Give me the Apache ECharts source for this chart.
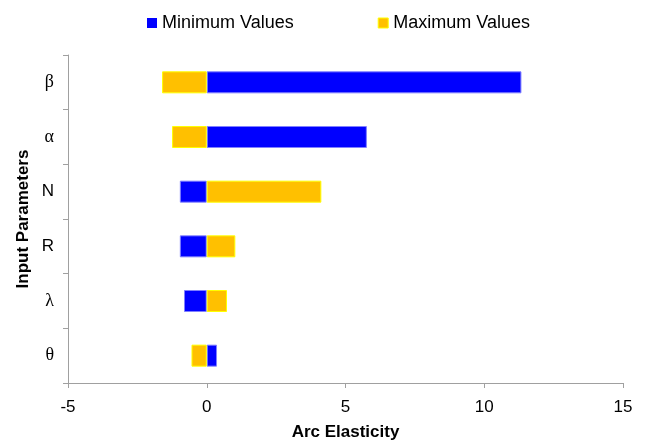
<!DOCTYPE html>
<html>
<head>
<meta charset="utf-8">
<script src="https://cdn.jsdelivr.net/npm/echarts@6/dist/echarts.min.js"></script>
<style>
  html, body { margin: 0; padding: 0; background: #fff; }
  #chart { width: 646px; height: 440px; }
</style>
</head>
<body>
<div id="chart"></div>
<script>
// Input parameters, listed top to bottom
const parameters = ['β', 'α', 'N', 'R', 'λ', 'θ'];
// Arc elasticity at the minimum and maximum parameter values
const minimumValues = [11.34, 5.77, -0.97, -0.97, -0.82, 0.37];
const maximumValues = [-1.61, -1.25, 4.13, 1.03, 0.73, -0.55];
// Elasticity axis ticks
const xTicks = [-5, 0, 5, 10, 15];

const greek = new Set(['α', 'β', 'λ', 'θ']);

const chart = echarts.init(document.getElementById('chart'), null, { renderer: 'canvas' });

chart.setOption({
  animation: false,
  backgroundColor: '#ffffff',
  textStyle: { fontFamily: 'Liberation Sans, Arial, sans-serif' },
  legend: {
    top: 14,
    left: 147,
    padding: 0,
    itemWidth: 10,
    itemHeight: 10,
    itemGap: 84,
    icon: 'rect',
    textStyle: { fontSize: 18, color: '#000' },
    data: [
      { name: 'Minimum Values', itemStyle: { borderWidth: 0 } },
      { name: 'Maximum Values', itemStyle: { borderWidth: 1 } }
    ]
  },
  grid: { left: 68, right: 23, top: 55, bottom: 57, outerBoundsMode: 'none', containLabel: false },
  xAxis: {
    type: 'value',
    min: xTicks[0],
    max: xTicks[xTicks.length - 1],
    interval: 5,
    splitLine: { show: false },
    axisLine: { show: true, lineStyle: { color: '#a0a0a0', width: 1 } },
    axisTick: { show: true, length: 5, lineStyle: { color: '#a0a0a0' } },
    axisLabel: { fontSize: 17, color: '#000', margin: 16 },
    name: 'Arc Elasticity',
    nameLocation: 'middle',
    nameGap: 41,
    nameMoveOverlap: false,
    nameTextStyle: { fontSize: 17, fontWeight: 'bold', color: '#000' }
  },
  yAxis: {
    type: 'category',
    inverse: true,
    data: parameters,
    axisLine: { show: true, onZero: false, lineStyle: { color: '#a0a0a0', width: 1 } },
    axisTick: { show: true, length: 5, lineStyle: { color: '#a0a0a0' } },
    axisLabel: {
      margin: 14,
      fontSize: 17,
      color: '#000',
      formatter: v => greek.has(v) ? '{g|' + v + '}' : '{s|' + v + '}',
      rich: {
        g: { fontFamily: 'Liberation Serif, Times New Roman, serif', fontSize: 18, color: '#000' },
        s: { fontFamily: 'Liberation Sans, Arial, sans-serif', fontSize: 17, color: '#000' }
      }
    },
    name: 'Input Parameters',
    nameLocation: 'middle',
    nameGap: 36,
    nameRotate: 90,
    nameMoveOverlap: false,
    nameTextStyle: { fontSize: 17, fontWeight: 'bold', color: '#000' }
  },
  series: [
    {
      name: 'Minimum Values',
      type: 'bar',
      data: minimumValues,
      barWidth: 22,
      barGap: '-100%',
      itemStyle: { color: '#0000ff', borderColor: '#8080ff', borderWidth: 1 }
    },
    {
      name: 'Maximum Values',
      type: 'bar',
      data: maximumValues,
      barWidth: 22,
      barGap: '-100%',
      itemStyle: { color: '#ffc000', borderColor: '#ffff00', borderWidth: 1 }
    }
  ]
});
</script>
</body>
</html>
